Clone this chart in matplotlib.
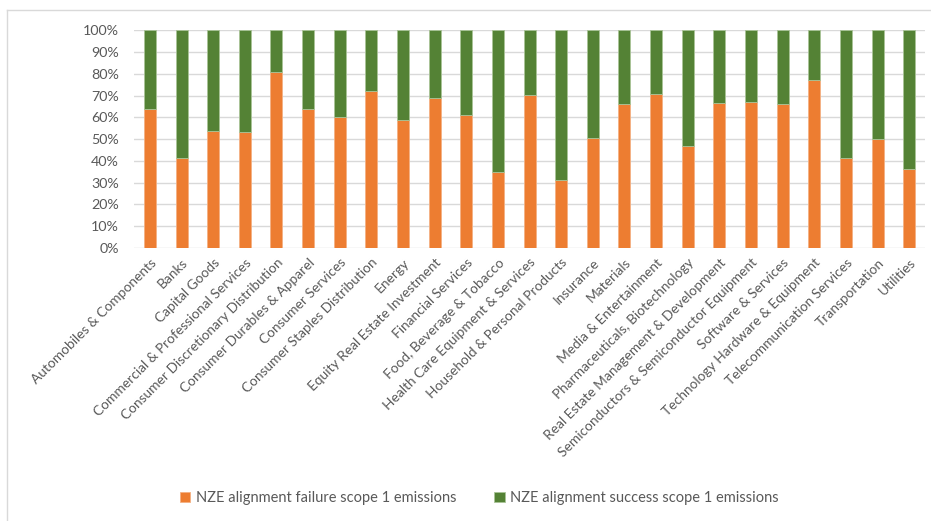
import numpy as np
import matplotlib.pyplot as plt
from matplotlib.lines import Line2D
from matplotlib.ticker import PercentFormatter

# sectors and shares
sectors = [
    "Automobiles & Components", "Banks", "Capital Goods",
    "Commercial & Professional Services", "Consumer Discretionary Distribution",
    "Consumer Durables & Apparel", "Consumer Services", "Consumer Staples Distribution",
    "Energy", "Equity Real Estate Investment", "Financial Services",
    "Food, Beverage & Tobacco", "Health Care Equipment & Services",
    "Household & Personal Products", "Insurance", "Materials",
    "Media & Entertainment", "Pharmaceuticals, Biotechnology",
    "Real Estate Management & Development", "Semiconductors & Semiconductor Equipment",
    "Software & Services", "Technology Hardware & Equipment",
    "Telecommunication Services", "Transportation", "Utilities",
]
failure = [63.7, 41.5, 53.9, 53.4, 80.6, 64.0, 60.0, 72.1, 58.8, 68.7, 61.1, 35.1,
           70.4, 31.1, 50.5, 66.1, 70.5, 47.0, 66.4, 67.2, 66.1, 77.1, 41.1, 49.9, 36.2]
success = [100 - v for v in failure]

orange = "#ED7D31"
green = "#548235"
text_col = "#595959"

plt.rcParams['font.family'] = ['Lato', 'DejaVu Sans']

fig = plt.figure(figsize=(9.31, 5.21), dpi=100)
ax = fig.add_axes([0.144, 0.524, 0.8496, 0.418])

x = np.arange(len(sectors))
ax.bar(x, failure, width=0.38, color=orange, edgecolor="#F4B183", linewidth=0.6,
       label="NZE alignment failure scope 1 emissions", zorder=3)
ax.bar(x, success, width=0.38, bottom=failure, color=green, edgecolor="#A9C497",
       linewidth=0.6, label="NZE alignment success scope 1 emissions", zorder=3)

ax.set_xlim(-0.5, len(sectors) - 0.5)
ax.set_ylim(0, 100)
ax.set_yticks(np.arange(0, 101, 10))
ax.yaxis.set_major_formatter(PercentFormatter(decimals=0))
ax.set_xticks(x)
ax.set_xticklabels(sectors, rotation=45, ha="right", rotation_mode="anchor")
ax.tick_params(axis="both", length=0, colors=text_col)
ax.tick_params(axis="y", pad=11, labelsize=10.3)
ax.tick_params(axis="x", pad=6, labelsize=9.9)

ax.grid(axis="y", color="#D9D9D9", linewidth=1, zorder=0)
for s in ax.spines.values():
    s.set_visible(False)

fig.legend(loc="center", bbox_to_anchor=(0.515, 0.044), ncol=2, frameon=False,
           handlelength=0.7, handleheight=0.7, handletextpad=0.4, columnspacing=2.6,
           fontsize=10.5, labelcolor=text_col)

# chart border (left and top edges visible)
fig.add_artist(Line2D([7 / 931, 7 / 931], [0, 1 - 10 / 521], color="#D9D9D9", lw=1))
fig.add_artist(Line2D([7 / 931, 1], [1 - 10 / 521, 1 - 10 / 521], color="#D9D9D9", lw=1))

fig.savefig("out.png", dpi=100)
